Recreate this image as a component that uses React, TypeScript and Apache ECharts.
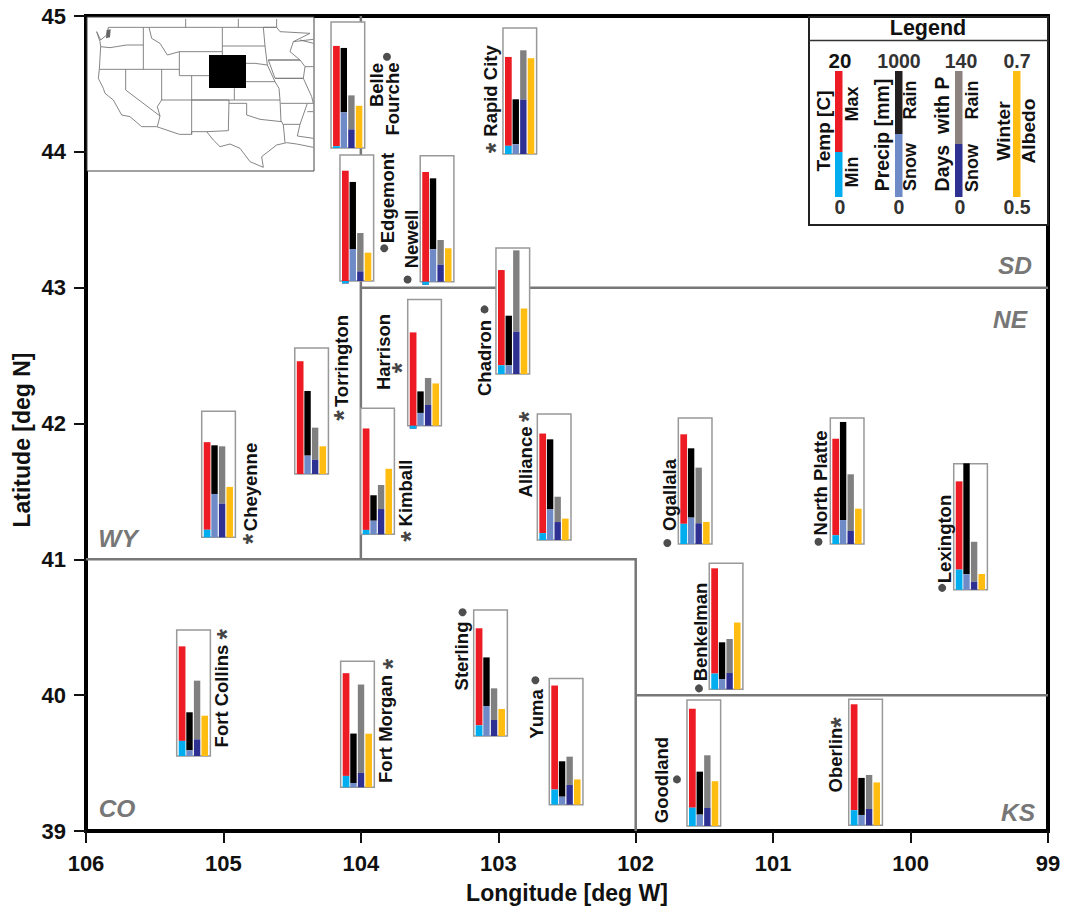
import React, { useEffect, useRef } from "react";
import * as echarts from "echarts";

const FONT = '"Liberation Sans", Arial, sans-serif';

// ---- data ----
const stationNames = ["Belle Fourche","Edgemont","Newell","Rapid City","Chadron","Harrison","Alliance","Cheyenne","Torrington","Kimball","Ogallala","North Platte","Lexington","Benkelman","Goodland","Oberlin","Fort Collins","Fort Morgan","Sterling","Yuma"];
const boxLon = [104.217,104.152,103.568,102.966,103.017,103.659,102.716,105.158,104.481,104.001,101.690,100.584,99.686,101.465,101.627,100.450,105.340,104.147,103.179,102.629];
const boxLat = [44.028,43.049,43.044,43.984,42.364,41.984,41.142,41.162,41.628,41.184,41.113,41.113,40.776,40.043,39.037,39.042,39.552,39.322,39.699,39.194];
const tempMax = [16.2,17.5,17.4,15.4,16.5,14.8,16.9,15.1,17.9,16.8,17.4,16.7,17.2,19.2,18.6,19.2,17.4,18.1,17.1,18.9];
const tempMin = [0.3,-0.4,-0.5,1.3,1.4,-0.5,1.1,1.2,0,0.7,3.2,1.4,3.2,2.5,2.9,2.4,2.4,1.8,1.7,2.4];
const precipTotal = [794,786,820,434,463,272,799,730,659,310,759,968,1003,373,431,376,347,426,624,344];
const precipSnow = [283,254,257,77,69,101,243,344,146,108,209,190,124,82,90,82,45,34,238,63];
const daysTotal = [58.5,53.3,46.3,115.2,137.4,53,48.1,101.1,51.5,54.8,84.8,77.4,53.3,55.9,78.5,55.9,83.7,114.1,53,53.3];
const daysSnow = [20.7,10.7,18.9,60.4,47,23,20,37.4,15.9,28.1,23,14.4,8.9,18.1,20,18.1,18.5,15.9,17.8,21.9];
const albedo = [0.567,0.545,0.553,0.652,0.604,0.567,0.534,0.58,0.544,0.604,0.535,0.556,0.525,0.606,0.571,0.568,0.564,0.585,0.543,0.54];

const dotStations = [[103.81,44.70],[103.83,43.29],[103.66,43.06],[103.10,42.84],[101.77,41.12],[100.67,41.13],[99.77,40.79],[101.54,40.05],[101.70,39.38],[103.26,40.61],[102.73,40.11]];
const starStations = [[103.05,44.04],[103.74,42.42],[102.81,42.06],[103.67,41.18],[104.82,41.16],[104.16,42.07],[100.54,39.81],[105.01,40.46],[103.80,40.24]];

const borders = [
  [[104,45],[104,41]],
  [[104,43],[99,43]],
  [[106,41],[102,41],[102,39]],
  [[102,40],[99,40]],
];

const xTicks = [99, 106];
const yTicks = [39, 45];
const tempTop = 20, precipTop = 1000, daysTop = 140, albedoLow = 0.5, albedoHigh = 0.7;

// ---- layout (pixels / sizes), separate from data ----
const BOX_LON = 0.245, BOX_LAT = 0.928;
const COLORS = { max:"#ED1C24", min:"#00AEEF", rain:"#000000", snow:"#6F8BC7", dRain:"#808080", dSnow:"#2E3192", alb:"#FFBC11" };

const nameLabels: [string, number, number][] = [
  ["Belle",376,85],["Fourche",392,99],["Edgemont",387,198],["Newell",411,239],["Rapid City",490,91],
  ["Chadron",484,358],["Harrison",383,352],["Alliance",525,462],["Kimball",405,493],["Cheyenne",250,487],
  ["Torrington",341,361],["Ogallala",669,495],["North Platte",820,483],["Lexington",944,539],["Benkelman",700,632],
  ["Goodland",661,780],["Oberlin",835,760],["Fort Collins",221,696],["Fort Morgan",385,729],["Sterling",461,656],["Yuma",536,714],
];
const stateLabels: [string, number, number][] = [["WY",118,538],["SD",1015,265],["NE",1010,319],["CO",117,808],["KS",1018,812]];

const legendBars: [number, number, number, string][] = [
  [835,71,81,COLORS.max],[835,152,45,COLORS.min],
  [895,71,63,"#231F20"],[895,134,63,COLORS.snow],
  [955,71,73,"#8C8280"],[955,144,53,COLORS.dSnow],
  [1013,71,126,COLORS.alb],
];
const legendH: [string, number, number][] = [["20",840,60],["1000",899,61],["140",961,61],["0.7",1017,61],["0",840,207],["0",899,207],["0",960,207],["0.5",1017,207]];
const legendV: [string, number, number, number][] = [["Temp [C]",823,131,19],["Max",852,104,18],["Min",852,172,18],["Precip [mm]",882,135,19.5],["Rain",910,100,18],["Snow",910,167,18],["Days  with P",942,134,19.5],["Rain",972,100,18],["Snow",972,168,18],["Winter",1003,131,19.2],["Albedo",1028,131,19.2]];

// inset map outlines, in inset-local coordinates
const insetLines: number[][][] = [
  [[85,52],[590,52]],[[317,27],[317,52]],[[475,27],[475,52]],[[590,27],[590,52]],
  [[85,52],[80,75],[62,90],[50,65],[60,95],[62,110],[58,178],[55,205],[70,235],[75,250],[100,270],[125,315],[150,320],[185,350],[230,350],[298,373],[335,373],[335,365],[380,365],[400,390],[420,410],[450,402],[480,415],[510,455],[550,472],[545,440],[590,405],[620,398],[650,402],[700,412]],
  [[62,110],[90,113],[140,105],[190,105]],[[190,52],[190,178]],[[58,178],[298,178]],
  [[207,52],[215,85],[240,100],[262,135],[298,125],[298,197],[427,197],[427,52]],[[298,125],[427,125]],
  [[427,108],[555,108],[550,52]],[[555,108],[562,165],[525,160],[498,160]],
  [[498,215],[585,215],[562,165]],[[463,235],[463,270],[600,270],[597,235],[585,215]],
  [[335,197],[335,270],[463,270]],[[245,178],[245,270],[335,270]],
  [[137,178],[137,240],[240,318],[232,350]],[[245,270],[232,290],[240,318]],[[335,270],[335,373]],
  [[335,270],[447,270],[445,362],[380,365]],[[447,280],[500,280],[500,315],[540,328],[605,335],[610,345],[615,398]],
  [[600,270],[603,335]],[[602,280],[682,280]],[[610,343],[660,343],[652,378],[700,385]],
  [[550,52],[590,52],[600,65],[690,70],[640,95],[630,125],[660,150],[565,150]],
  [[565,150],[660,150],[675,170],[670,205],[585,205],[565,150]],[[585,205],[670,205],[695,260],[700,280],[682,280],[660,343]],
  [[640,95],[700,88]],[[660,90],[700,100]],[[675,170],[700,170]],[[682,305],[700,305]],
];
const insetX = (v: number) => 80 + v / 3;
const insetY = (v: number) => 10 + v / 3;

function vText(text: string, x: number, y: number, size = 18.5, fill = "#111") {
  return { type: "text", z: 20, x, y, rotation: Math.PI / 2, silent: true,
    style: { text, fill, font: `bold ${size}px ${FONT}`, align: "center", verticalAlign: "middle" } };
}
function hText(text: string, x: number, y: number, size = 18.5, fill = "#222", style = "") {
  return { type: "text", z: 20, x, y, silent: true,
    style: { text, fill, font: `${style} bold ${size}px ${FONT}`, align: "center", verticalAlign: "middle" } };
}

function renderStation(params: any, api: any) {
  const i = api.value(0);
  const lon = boxLon[i], lat = boxLat[i];
  const px = (f: number) => api.coord([lon - f * BOX_LON, lat])[0];
  const py = (f: number) => api.coord([lon, lat + f * BOX_LAT])[1];
  const seg = (a: number, b: number, from: number, to: number, fill: string) => ({
    type: "rect",
    shape: { x: px(a), y: py(Math.max(from, to)), width: px(b) - px(a), height: py(Math.min(from, to)) - py(Math.max(from, to)) },
    style: { fill },
  });
  const t = (v: number) => v / tempTop;
  const p = (v: number) => v / precipTop;
  const d = (v: number) => v / daysTop;
  const al = (albedo[i] - albedoLow) / (albedoHigh - albedoLow);
  return {
    type: "group",
    children: [
      { type: "rect", shape: { x: px(0), y: py(1), width: px(1) - px(0), height: py(0) - py(1) }, style: { fill: "#fff", stroke: "#999", lineWidth: 1.5 } },
      seg(0.06, 0.26, t(tempMin[i]), t(tempMax[i]), COLORS.max),
      seg(0.06, 0.26, 0, t(tempMin[i]), COLORS.min),
      seg(0.285, 0.475, p(precipSnow[i]), p(precipTotal[i]), COLORS.rain),
      seg(0.285, 0.475, 0, p(precipSnow[i]), COLORS.snow),
      seg(0.51, 0.70, d(daysSnow[i]), d(daysTotal[i]), COLORS.dRain),
      seg(0.51, 0.70, 0, d(daysSnow[i]), COLORS.dSnow),
      seg(0.735, 0.93, 0, al, COLORS.alb),
    ],
  };
}

export default function App() {
  const ref = useRef<HTMLDivElement>(null);
  useEffect(() => {
    const chart = echarts.init(ref.current!, undefined, { renderer: "svg" });
    const graphic: any[] = [
      // inset
      { type: "rect", z: 10, shape: { x: 87, y: 17, width: 227, height: 154 }, style: { fill: "#fff", stroke: "#444", lineWidth: 1 } },
      ...insetLines.map((pts) => ({ type: "polyline", z: 11, shape: { points: pts.map(([x, y]) => [insetX(x), insetY(y)]) }, style: { fill: "none", stroke: "#777", lineWidth: 0.9 } })),
      { type: "polygon", z: 11, shape: { points: [[80,60],[92,58],[90,82],[78,85]].map(([x, y]) => [insetX(x), insetY(y)]) }, style: { fill: "#666" } },
      { type: "rect", z: 12, shape: { x: 209, y: 55, width: 37, height: 33 }, style: { fill: "#000" } },
      // legend
      { type: "rect", z: 10, shape: { x: 809, y: 17, width: 239, height: 208 }, style: { fill: "#fff", stroke: "#222", lineWidth: 2 } },
      { type: "line", z: 11, shape: { x1: 809, y1: 40.5, x2: 1048, y2: 40.5 }, style: { stroke: "#333", lineWidth: 1.5 } },
      hText("Legend", 928, 28, 21.5, "#111"),
      ...legendBars.map(([x, y, h, fill]) => ({ type: "rect", z: 11, shape: { x, y, width: 7.5, height: h }, style: { fill } })),
      ...legendH.map(([s, x, y]) => hText(s, x, y, s === "20" ? 20.5 : 19.5, s === "20" ? "#111" : "#333")),
      ...legendV.map(([s, x, y, size]) => vText(s, x, y, size)),
      // labels
      ...nameLabels.map(([s, x, y]) => vText(s, x, y)),
      ...stateLabels.map(([s, x, y]) => hText(s, x, y, 24.5, "#777", "italic")),
      vText("Latitude [deg N]", 22, 440, 23),
    ];
    chart.setOption({
      animation: false,
      grid: { left: 86, right: 21, top: 16, bottom: 78, show: true, borderColor: "#000", borderWidth: 4, backgroundColor: "#fff" },
      xAxis: {
        type: "value", min: xTicks[0], max: xTicks[1], interval: 1, inverse: true,
        name: "Longitude [deg W]", nameLocation: "middle", nameGap: 50,
        nameTextStyle: { fontFamily: FONT, fontWeight: "bold", fontSize: 23, color: "#111" },
        splitLine: { show: false },
        axisLine: { show: false },
        axisTick: { show: true, length: 12, lineStyle: { color: "#111", width: 2 } },
        axisLabel: { fontFamily: FONT, fontWeight: "bold", fontSize: 22, color: "#111", margin: 21 },
      },
      yAxis: {
        type: "value", min: yTicks[0], max: yTicks[1], interval: 1,
        splitLine: { show: false },
        axisLine: { show: false },
        axisTick: { show: true, length: 12, lineStyle: { color: "#111", width: 2 } },
        axisLabel: { fontFamily: FONT, fontWeight: "bold", fontSize: 22, color: "#111", margin: 20 },
      },
      graphic,
      series: [
        { type: "lines", coordinateSystem: "cartesian2d", polyline: true, silent: true, z: 1,
          lineStyle: { color: "#777", width: 2.5, opacity: 1 },
          data: borders.map((coords) => ({ coords })) },
        { type: "custom", coordinateSystem: "cartesian2d", z: 3, silent: true, clip: false,
          encode: { x: 1, y: 2 },
          data: stationNames.map((n, i) => ({ name: n, value: [i, boxLon[i], boxLat[i]] })),
          renderItem: renderStation },
        { type: "scatter", z: 4, silent: true, symbol: "circle", symbolSize: 8, itemStyle: { color: "#222" }, data: dotStations },
        { type: "scatter", z: 4, silent: true, symbolSize: 0, data: starStations,
          label: { show: true, formatter: "*", position: "inside", rotate: 90, offset: [-1.5, 5], color: "#111", fontFamily: FONT, fontWeight: "bold", fontSize: 27 } },
      ],
    });
    return () => chart.dispose();
  }, []);
  return <div ref={ref} style={{ position: "absolute", left: 0, top: 0, width: 1069, height: 909, background: "#fff" }} />;
}
